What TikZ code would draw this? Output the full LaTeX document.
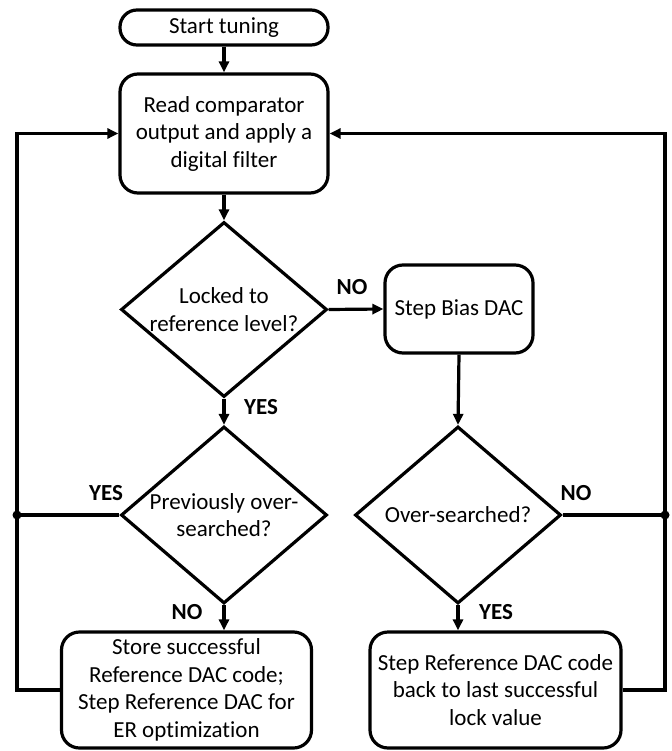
\documentclass[tikz,border=0pt]{standalone}
\usepackage{fontspec}
\setmainfont{Carlito}[Ligatures=NoCommon]
\usetikzlibrary{arrows.meta,shapes.geometric}
\begin{document}
\begin{tikzpicture}[x=1pt,y=-1pt,
  every node/.style={inner sep=0pt},
  ln/.style={line width=3.2pt},
  arr/.style={ln,-{Triangle[length=11pt,width=10pt]}},
  box/.style={draw,ln,rounded corners=18pt,align=center,font=\fontsize{23}{27.5}\selectfont},
  dia/.style={draw,ln,diamond},
  dtext/.style={align=center,font=\fontsize{23}{27.5}\selectfont},
  lab/.style={font=\fontsize{23}{26}\selectfont\bfseries},
  dot/.style={circle,fill,minimum size=9pt}
]
\useasboundingbox (0,0) rectangle (671,751);
\node[box,rounded corners=17pt,minimum width=208pt,minimum height=35pt] (start) at (224,27.5) {Start tuning};
\node[box,minimum width=208pt,minimum height=119pt] (read) at (224,133.5) {Read comparator\\output and apply a\\digital filter};
\node[dia,minimum width=206pt,minimum height=175pt] (d1) at (224,309.5) {};
\node[dtext] (d1t) at (224,309.5) {Locked to\\reference level?};
\node[box,minimum width=148pt,minimum height=88pt] (bias) at (459,309) {Step Bias DAC};
\node[dia,minimum width=206pt,minimum height=177pt] (d2) at (224,515) {};
\node[dtext] (d2t) at (224,515) {Previously over-\\searched?};
\node[dia,minimum width=206pt,minimum height=177pt] (d3) at (458,515) {};
\node[dtext] (d3t) at (458,515) {Over-searched?};
\node[box,minimum width=250pt,minimum height=116pt] (b4) at (186.5,690) {Store successful\\Reference DAC code;\\Step Reference DAC for\\ER optimization};
\node[box,minimum width=251pt,minimum height=116pt] (b5) at (495.5,690) {Step Reference DAC code\\back to last successful\\lock value};
\node[dot] (L) at (17,515) {};
\node[dot] (R) at (665,515) {};

\draw[arr] (start) -- (read);
\draw[arr] (read) -- (d1);
\draw[arr] (d1.east) -- (bias.west);
\draw[arr] (d1.south) -- (d2.north);
\draw[arr] (bias.south) -- (d3.north);
\draw[arr] (d2.south) -- (d2.south |- b4.north);
\draw[arr] (d3.south) -- (d3.south |- b5.north);
\draw[ln] (d2.west) -- (L.center);
\draw[ln] (d3.east) -- (R.center);
\draw[arr] (b4.west) -| (L.center) |- (read.west);
\draw[arr] (b5.east) -| (R.center) |- (read.east);

\node[lab] (noA) at (352,287) {NO};
\node[lab] (yesA) at (261,407) {YES};
\node[lab] (yesB) at (106,493) {YES};
\node[lab] (noB) at (576,493) {NO};
\node[lab] (noC) at (187,612) {NO};
\node[lab] (yesC) at (496,612) {YES};
\end{tikzpicture}
\end{document}
